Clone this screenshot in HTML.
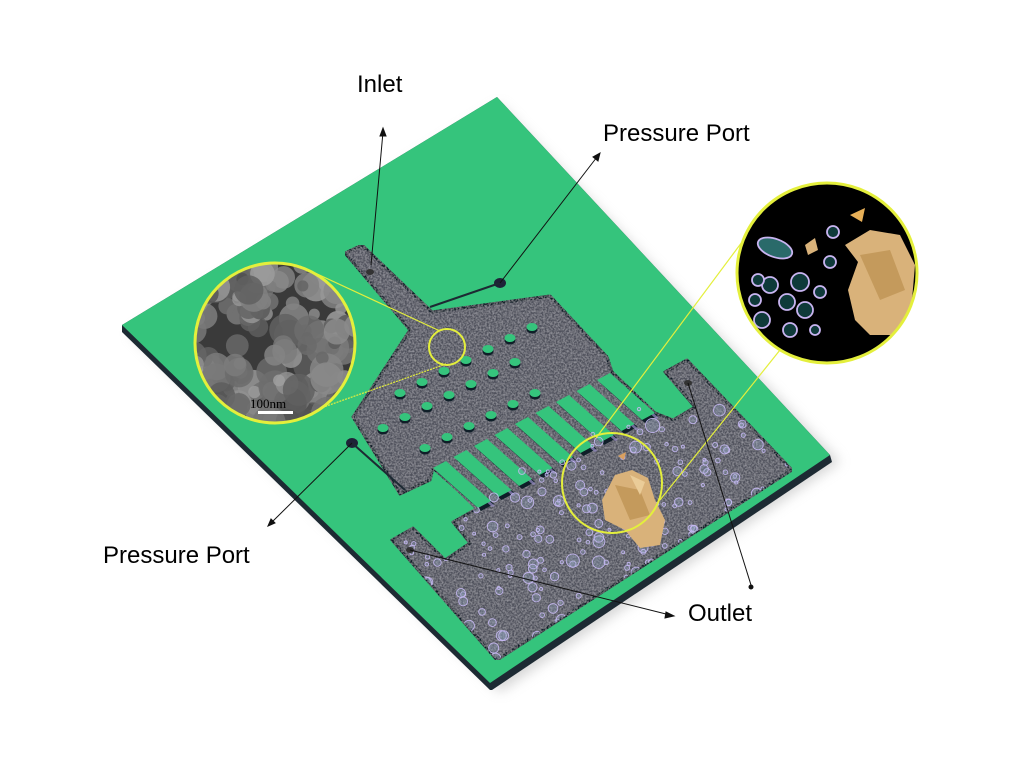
<!DOCTYPE html>
<html><head><meta charset="utf-8"><style>
html,body{margin:0;padding:0;background:#fff}
svg{display:block}
text{font-family:"Liberation Sans",Arial,sans-serif;fill:#000}
</style></head><body>
<svg id="s" width="1014" height="777" viewBox="0 0 1014 777" xmlns="http://www.w3.org/2000/svg">
<defs>
<filter id="noise" x="0" y="0" width="100%" height="100%">
<feTurbulence type="fractalNoise" baseFrequency="0.55" numOctaves="2" seed="3" result="n"/>
<feColorMatrix in="n" type="matrix" values="0 0 0 0 0.55  0 0 0 0 0.55  0 0 0 0 0.6  0 0 0 0.9 -0.3" result="c"/>
<feComposite in="c" in2="SourceGraphic" operator="in" result="t"/>
<feMerge><feMergeNode in="SourceGraphic"/><feMergeNode in="t"/></feMerge>
</filter>
<filter id="sh"><feGaussianBlur stdDeviation="6"/></filter>
<clipPath id="cl"><circle cx="275" cy="343" r="80"/></clipPath>
<clipPath id="cr"><circle cx="827" cy="273" r="90"/></clipPath>
<clipPath id="cg"><polygon points="345,253 362,245 432,312 550,296 607,357 612,372 655,413 673,420 695,407 665,372 687,360 792,470 497,660 392,540 413,528 445,560 470,543 453,522 478,508 433,468 430,480 400,494 353,417 410,330"/></clipPath>
</defs>
<polygon points="500,105 840,462 500,692 130,333" fill="#bbb" filter="url(#sh)" opacity="0.6"/>
<polygon points="122,325 497,97 830,455 832,462 492,690 490,690 122,332" fill="#1d2a33"/>
<polygon points="122,325 497,97 830,455 490,683" fill="#35c47c"/>
<polygon points="345,253 362,245 432,312 550,296 607,357 612,372 655,413 673,420 695,407 665,372 687,360 792,470 497,660 392,540 413,528 445,560 470,543 453,522 478,508 433,468 430,480 400,494 353,417 410,330" fill="#50515b" stroke="#0f1e28" stroke-width="3" stroke-linejoin="round" filter="url(#noise)"/>
<polygon points="433,468 600,376 660,418 478,512" fill="#50515b" filter="url(#noise)"/>
<g id="fins"></g>
<g id="pil"></g>
<g id="bub" clip-path="url(#cg)"></g>
<g>
<path d="M602,500 L615,475 L632,470 L648,478 L655,500 L665,520 L660,545 L640,548 L625,530 L605,520 Z" fill="#d9b27a"/>
<path d="M615,485 L640,490 L650,515 L630,520 Z" fill="#c49a5c"/>
<path d="M630,475 L645,482 L640,495 Z" fill="#eacc98"/>
<path d="M618,456 L626,452 L624,460 Z" fill="#d9a060"/>
</g>
<ellipse cx="500" cy="283" rx="6" ry="5" fill="#1e2238"/>
<ellipse cx="352" cy="443" rx="6" ry="5" fill="#1e2238"/>
<ellipse cx="370" cy="272" rx="4" ry="3" fill="#333"/>
<ellipse cx="688" cy="383" rx="4" ry="3" fill="#333"/>
<ellipse cx="410" cy="550" rx="4" ry="3" fill="#333"/>
<polyline points="500,283 430,307" stroke="#1d2a33" stroke-width="2" fill="none"/>
<polyline points="352,443 405,490" stroke="#1d2a33" stroke-width="2" fill="none"/>
<g stroke="#e4ef3c" stroke-width="1.2" fill="none">
<line x1="440" y1="331" x2="300" y2="266"/>
<line x1="446" y1="364" x2="298" y2="416" stroke-dasharray="2,1"/>
<line x1="596" y1="438" x2="745" y2="238"/>
<line x1="660" y1="500" x2="780" y2="350"/>
<circle cx="447" cy="347" r="18" stroke-width="2"/>
<circle cx="612" cy="483" r="50" stroke-width="2"/>
</g>
<g clip-path="url(#cl)"><rect x="190" y="260" width="170" height="170" fill="#3a3a3a"/><g id="sem"></g></g>
<circle cx="275" cy="343" r="80" fill="none" stroke="#e4ef3c" stroke-width="3"/>
<text x="250" y="408" font-size="13" style="font-family:'Liberation Serif',serif" fill="#fff">100nm</text>
<rect x="258" y="411" width="35" height="3" fill="#fff"/>
<g clip-path="url(#cr)"><rect x="730" y="180" width="200" height="190" fill="#000"/><g id="rb"></g>
<path d="M845,245 L870,230 L900,235 L915,265 L912,300 L900,335 L870,335 L855,320 L848,290 L858,262 Z" fill="#d9b27a"/>
<path d="M860,255 L890,250 L905,290 L880,300 Z" fill="#c49a5c"/>
<path d="M850,215 L865,208 L862,222 Z" fill="#e8b058"/>
<path d="M805,245 L815,238 L818,250 L808,255 Z" fill="#d9b27a"/>
</g>
<circle cx="827" cy="273" r="90" fill="none" stroke="#e4ef3c" stroke-width="3"/>
<g stroke="#111" stroke-width="1" fill="#111">
<line x1="371" y1="265" x2="383" y2="132"/><polygon points="383,128 380,136 386,136"/>
<line x1="500" y1="283" x2="597" y2="157"/><polygon points="600,153 593,157 598,161"/>
<line x1="352" y1="443" x2="271" y2="523"/><polygon points="268,526 271,519 275,523"/>
<line x1="410" y1="550" x2="670" y2="615"/><polygon points="674,616 666,612 665,618"/>
<line x1="688" y1="383" x2="751" y2="585"/><circle cx="751" cy="587" r="2"/>
</g>
<text x="357" y="92" font-size="24">Inlet</text>
<text x="603" y="141" font-size="24">Pressure Port</text>
<text x="103" y="563" font-size="24">Pressure Port</text>
<text x="688" y="621" font-size="24">Outlet</text>
</svg>
<script>
var NS="http://www.w3.org/2000/svg";
function el(p,t,a){var e=document.createElementNS(NS,t);for(var k in a)e.setAttribute(k,a[k]);p.appendChild(e);return e;}
var seed=7;function r(){seed=(seed*16807)%2147483647;return seed/2147483647;}
var f=document.getElementById("fins");
for(var i=0;i<9;i++){var x=433+i*20.5,y=468-i*11;
el(f,"polygon",{points:[x+3,y+3,x+16,y-4,x+61,y+36,x+48,y+43].join(" "),fill:"#0f1e28"});
el(f,"polygon",{points:[x+14,y-3,x+17,y-2,x+62,y+38,x+59,y+39].join(" "),fill:"#9a8fc8",opacity:0.7});
el(f,"polygon",{points:[x,y,x+13,y-7,x+58,y+33,x+45,y+40].join(" "),fill:"#35c47c"});}
var p=document.getElementById("pil");
var rows=[[383,428],[400,393],[425,448]];
for(var j=0;j<3;j++){for(var i=0;i<7;i++){var x=rows[j][0]+i*22,y=rows[j][1]-i*11;
if(j==2&&i>5)continue;
el(p,"ellipse",{cx:x,cy:y+2.5,rx:5.5,ry:4,fill:"#0f1e28"});el(p,"ellipse",{cx:x,cy:y,rx:5.5,ry:4,fill:"#35c47c"});}}
var b=document.getElementById("bub");
for(var i=0;i<450;i++){var u=r(),v=r();
var x=400+u*400,y=380+v*290;
if(y< 515-(x-440)*0.55)continue;
var rr=1.5+r()*r()*6;
el(b,"circle",{cx:x,cy:y,r:rr,fill:"rgba(150,170,200,0.3)",stroke:"rgba(200,185,245,0.9)","stroke-width":0.9});}
var s=document.getElementById("sem");
for(var i=0;i<170;i++){var x=190+r()*170,y=260+r()*170,rr=5+r()*12,g=Math.floor(80+r()*80);
el(s,"circle",{cx:x,cy:y,r:rr,fill:"rgb("+g+","+g+","+g+")",opacity:0.85});}
var rb=document.getElementById("rb");
var pts=[[770,285,8],[787,302,8],[755,300,6],[762,320,8],[800,282,9],[805,310,8],[790,330,7],[758,280,6],[820,292,6],[833,232,6],[830,262,6],[815,330,5]];
pts.forEach(function(q){el(rb,"circle",{cx:q[0],cy:q[1],r:q[2],fill:"#0f3a3a",stroke:"#c8b4f0","stroke-width":1.8});});
el(rb,"ellipse",{cx:775,cy:248,rx:18,ry:9,fill:"#2a6a6a",stroke:"#c8b4f0","stroke-width":1.8,transform:"rotate(20 775 248)"});
</script>
</body></html>
